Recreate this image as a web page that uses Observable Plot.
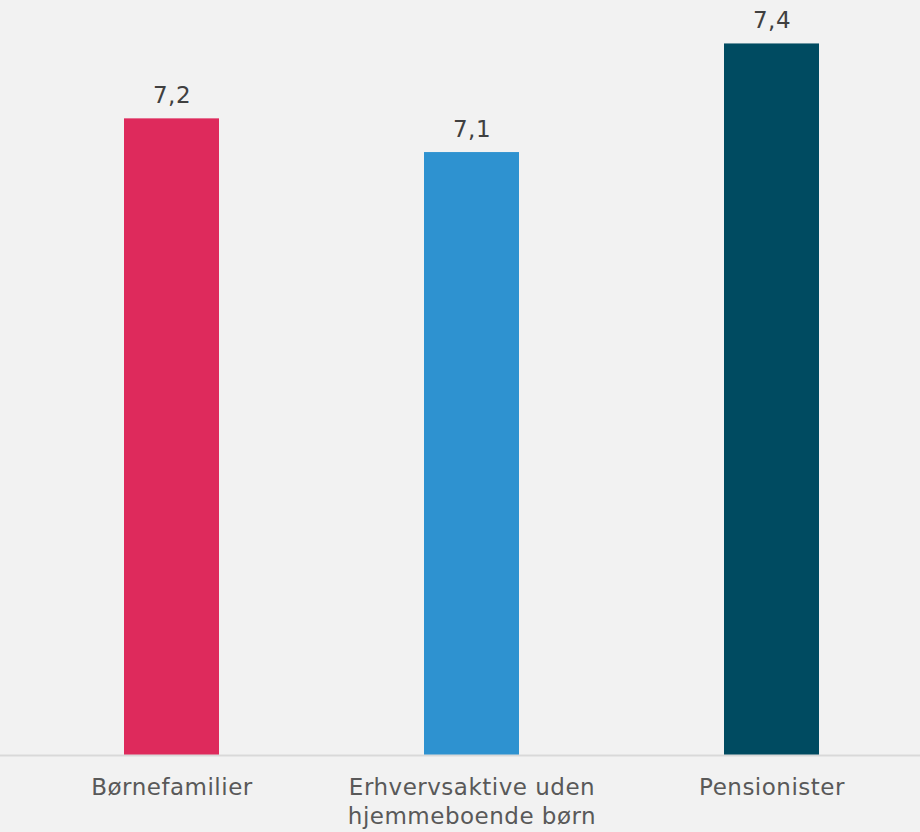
<!DOCTYPE html>
<html>
<head>
<meta charset="utf-8">
<script src="https://cdn.jsdelivr.net/npm/d3@7"></script>
<script src="https://cdn.jsdelivr.net/npm/@observablehq/plot@0.6"></script>
<style>
  html, body { margin: 0; padding: 0; background: #f2f2f2; }
  #chart svg { display: block; }
</style>
</head>
<body>
<div id="chart"></div>
<script>
const categories = ["Børnefamilier", "Erhvervsaktive uden hjemmeboende børn", "Pensionister"];
const axisLabels = ["Børnefamilier", "Erhvervsaktive uden\nhjemmeboende børn", "Pensionister"];
const values = [7.2, 7.11, 7.4];
const colors = ["#de2a5c", "#2e92d0", "#004b61"];

const data = categories.map((c, i) => ({cat: c, label: axisLabels[i], value: values[i], color: colors[i]}));
const fmt = v => d3.format(".1f")(v).replace(".", ",");

const chart = Plot.plot({
  width: 920,
  height: 832,
  marginTop: 6,
  marginBottom: 77,
  marginLeft: 0,
  marginRight: 0,
  style: {background: "#f2f2f2", fontFamily: "'DejaVu Sans', Verdana, sans-serif", letterSpacing: "0.5px"},
  x: {domain: categories, paddingInner: 0.684, paddingOuter: 0.373, align: 0.552, axis: null},
  y: {domain: [5.5, 7.5], axis: null},
  marks: [
    Plot.barY(data, {x: "cat", y1: 5.5, y2: "value", fill: "color"}),
    Plot.ruleY([5.5], {stroke: "#d9d9d9", strokeWidth: 2}),
    Plot.text(data, {x: "cat", y: "value", text: d => fmt(d.value), lineAnchor: "bottom", dy: -16, fontSize: 23, fill: "#404040"}),
    Plot.text(data, {x: "cat", text: "label", frameAnchor: "bottom", lineAnchor: "top", dy: 19, fontSize: 23, lineHeight: 1.26, fill: "#595959"})
  ]
});
document.getElementById("chart").append(chart);
</script>
</body>
</html>
